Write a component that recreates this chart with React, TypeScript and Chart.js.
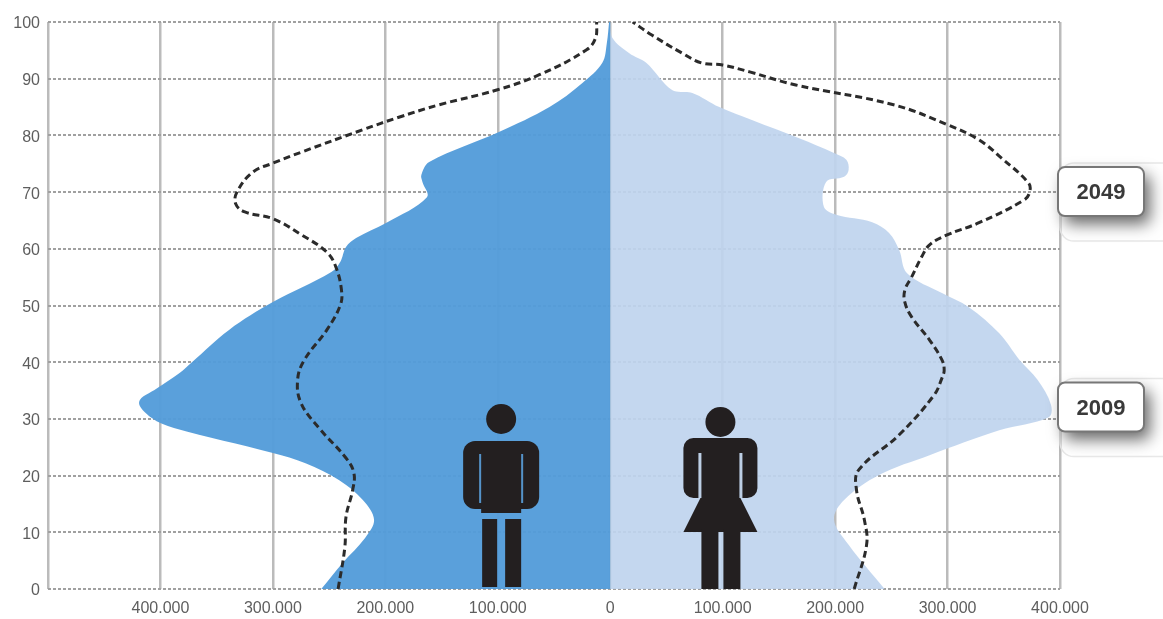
import React, { useEffect, useRef } from "react";
import { Chart, registerables } from "chart.js";

Chart.register(...registerables);

// Age groups and population (in thousands)
const maleAges2009 = [0, 4.6, 9, 12.2, 15.7, 19.2, 22.2, 24, 28.4, 30.2, 33, 35.4, 38.1, 40, 45.7, 50.6, 55.9, 57.7, 60.3, 61.9, 64.6, 69.1, 71.8, 73, 75.3, 80.6, 85, 89.2, 92.8, 96.3, 100];
const male2009 = [257, 238, 218, 210, 220, 241, 271, 300, 388, 408, 419, 403, 383, 372, 339, 300, 248, 240, 235, 226, 199, 163, 167, 168, 161, 99, 54, 25, 7, 3, 1];

const femaleAges2009 = [0, 7.8, 12.2, 15.7, 20.1, 23.6, 28, 30.3, 32.5, 36.9, 40.4, 45.1, 49.7, 52.2, 55.7, 59.8, 62.8, 64.7, 66, 67.4, 71.8, 72.7, 73.9, 75.7, 76.9, 79.5, 82.7, 85, 87.5, 88, 92.8, 94.5, 97.2, 100];
const female2009 = [244, 212, 199, 208, 239, 284, 346, 390, 392, 380, 364, 346, 319, 295, 264, 257, 248, 233, 201, 190, 192, 208, 212, 210, 199, 168, 126, 97, 73, 55, 32, 17, 2, 0];

const maleAges2049 = [0, 7.4, 12.7, 17.5, 20.5, 23.1, 28.4, 32.8, 36.9, 40.4, 45.7, 50.1, 52.7, 56.8, 59.4, 62.4, 65.3, 66.5, 67.9, 70, 73.5, 75.1, 77.1, 81, 83.2, 85.4, 88, 90.7, 95.1, 97.2, 100];
const male2049 = [242, 236, 235, 229, 228, 235, 259, 275, 278, 272, 252, 240, 239, 244, 252, 274, 300, 325, 333, 332, 318, 300, 274, 220, 188, 152, 101, 63, 21, 13, 12];

const femaleAges2049 = [0, 7.8, 12.2, 17.5, 21, 27.2, 34.2, 37.2, 38.6, 40.4, 43.9, 48, 50.6, 52.7, 55, 58.6, 60.7, 62.4, 64.6, 68.6, 70, 71.6, 76, 79.2, 81.8, 85.4, 88.9, 91.2, 92.4, 92.8, 94.5, 97.7, 100];
const female2049 = [217, 228, 226, 219, 221, 257, 288, 295, 297, 295, 284, 268, 262, 262, 268, 277, 284, 299, 328, 368, 373, 372, 348, 328, 301, 252, 165, 124, 100, 81, 64, 37, 20];

const xTicksHidden = [-500];
const seriesLabels = ["2049", "2009"];

const FONT = '"Liberation Sans", sans-serif';
const INK = "#231f20";

function toPoints(ages: number[], values: number[], sign: number) {
  return ages.map((y, i) => ({ x: sign * values[i], y }));
}

function roundRect(ctx: CanvasRenderingContext2D, x: number, y: number, w: number, h: number, r: number) {
  ctx.beginPath();
  ctx.roundRect(x, y, w, h, r);
}

function drawMale(ctx: CanvasRenderingContext2D, cx: number, base: number) {
  ctx.fillStyle = INK;
  ctx.beginPath();
  ctx.arc(cx, base - 170, 15, 0, Math.PI * 2);
  ctx.fill();
  roundRect(ctx, cx - 38, base - 148, 76, 68, 12);
  ctx.fill();
  ctx.fillRect(cx - 20, base - 90, 40, 14);
  ctx.fillRect(cx - 19, base - 70, 15, 68);
  ctx.fillRect(cx + 4, base - 70, 16, 68);
  ctx.fillStyle = "rgba(91,160,219,0.9)";
  ctx.fillRect(cx - 22, base - 135, 2, 49);
  ctx.fillRect(cx + 20, base - 135, 2, 49);
}

function drawFemale(ctx: CanvasRenderingContext2D, cx: number, base: number) {
  ctx.fillStyle = INK;
  ctx.beginPath();
  ctx.arc(cx, base - 167, 15, 0, Math.PI * 2);
  ctx.fill();
  roundRect(ctx, cx - 37, base - 151, 74, 60, 10);
  ctx.fill();
  ctx.beginPath();
  ctx.moveTo(cx - 18, base - 95);
  ctx.lineTo(cx + 18, base - 95);
  ctx.lineTo(cx + 37, base - 57);
  ctx.lineTo(cx - 37, base - 57);
  ctx.closePath();
  ctx.fill();
  ctx.fillRect(cx - 19, base - 60, 17, 60);
  ctx.fillRect(cx + 3, base - 60, 17, 60);
  ctx.fillStyle = "rgba(197,216,239,0.95)";
  ctx.fillRect(cx - 22, base - 136, 3, 45);
  ctx.fillRect(cx + 19, base - 136, 3, 45);
}

function drawCallout(ctx: CanvasRenderingContext2D, x: number, yc: number, text: string) {
  const top = yc - 25;
  // soft panel behind the label
  ctx.save();
  ctx.strokeStyle = "#e8e8e8";
  ctx.lineWidth = 1.5;
  roundRect(ctx, x + 2, top - 4, 120, 78, 14);
  ctx.stroke();
  ctx.restore();
  ctx.save();
  ctx.shadowColor = "rgba(0,0,0,0.6)";
  ctx.shadowBlur = 16;
  ctx.shadowOffsetX = 6;
  ctx.shadowOffsetY = 8;
  ctx.fillStyle = "#fff";
  roundRect(ctx, x, top, 86, 49, 7);
  ctx.fill();
  ctx.restore();
  ctx.fillStyle = "#fff";
  ctx.strokeStyle = "#777";
  ctx.lineWidth = 2;
  roundRect(ctx, x, top, 86, 49, 7);
  ctx.fill();
  ctx.stroke();
  ctx.fillStyle = "#3a3a3a";
  ctx.font = `bold 22px ${FONT}`;
  ctx.textAlign = "center";
  ctx.textBaseline = "middle";
  ctx.fillText(text, x + 43, yc + 1);
}

const overlay = {
  id: "overlay",
  afterDraw(chart: any) {
    const { ctx, scales } = chart;
    const base = scales.y.getPixelForValue(0);
    ctx.save();
    drawMale(ctx, scales.x.getPixelForValue(-97), base);
    drawFemale(ctx, scales.x.getPixelForValue(98), base);
    const right = scales.x.getPixelForValue(400) - 2;
    drawCallout(ctx, right, scales.y.getPixelForValue(70), seriesLabels[0]);
    drawCallout(ctx, right, scales.y.getPixelForValue(32), seriesLabels[1]);
    ctx.restore();
  },
};

export default function App() {
  const ref = useRef<HTMLCanvasElement>(null);
  useEffect(() => {
    const dashed = {
      showLine: true,
      borderColor: "#2b2b2b",
      borderWidth: 3,
      borderDash: [7, 4],
      pointRadius: 0,
      tension: 0.4,
      fill: false,
    };
    const area = { pointRadius: 0, borderWidth: 0, tension: 0.35, fill: "origin" };
    const chart = new Chart(ref.current!, {
      type: "line",
      data: {
        datasets: [
          { ...area, label: "2009 men", data: toPoints(maleAges2009, male2009, -1), backgroundColor: "rgba(83,156,218,0.96)", order: 3 },
          { ...area, label: "2009 women", data: toPoints(femaleAges2009, female2009, 1), backgroundColor: "rgba(191,212,238,0.92)", order: 3 },
          { ...dashed, label: "2049 men", data: toPoints(maleAges2049, male2049, -1), order: 1 },
          { ...dashed, label: "2049 women", data: toPoints(femaleAges2049, female2049, 1), order: 1 },
        ] as any,
      },
      options: {
        indexAxis: "y",
        responsive: false,
        animation: false,
        layout: { padding: { top: 22, right: 103, left: 0, bottom: 0 } },
        plugins: { legend: { display: false }, tooltip: { enabled: false } },
        scales: {
          x: {
            type: "linear",
            min: -500,
            max: 400,
            afterFit: (s: any) => {
              s.height = 30;
              s.paddingRight = 0;
              s.paddingLeft = 0;
            },
            grid: { color: "#bbbbbb", lineWidth: 2.5, drawTicks: false },
            border: { display: false },
            ticks: {
              stepSize: 100,
              padding: 10,
              maxRotation: 0,
              autoSkip: false,
              color: "#5e5e5e",
              font: { family: FONT, size: 16 },
              callback: (v: any) => {
                const n = Number(v);
                if (xTicksHidden.includes(n)) return "";
                return n === 0 ? "0" : `${Math.abs(n)}.000`;
              },
            },
          },
          y: {
            type: "linear",
            min: 0,
            max: 100,
            afterFit: (s: any) => {
              s.width = 48;
              s.paddingTop = 0;
              s.paddingBottom = 0;
            },
            grid: { color: "#a0a0a0", lineWidth: 2, drawTicks: false },
            border: { display: false, dash: [3, 2] },
            ticks: {
              stepSize: 10,
              padding: 8,
              labelOffset: 2,
              color: "#5e5e5e",
              font: { family: FONT, size: 16 },
            },
          },
        },
      } as any,
      plugins: [overlay],
    });
    return () => chart.destroy();
  }, []);
  return (
    <canvas
      ref={ref}
      width={1163}
      height={619}
      style={{ position: "absolute", left: 0, top: 0, width: 1163, height: 619 }}
    />
  );
}
